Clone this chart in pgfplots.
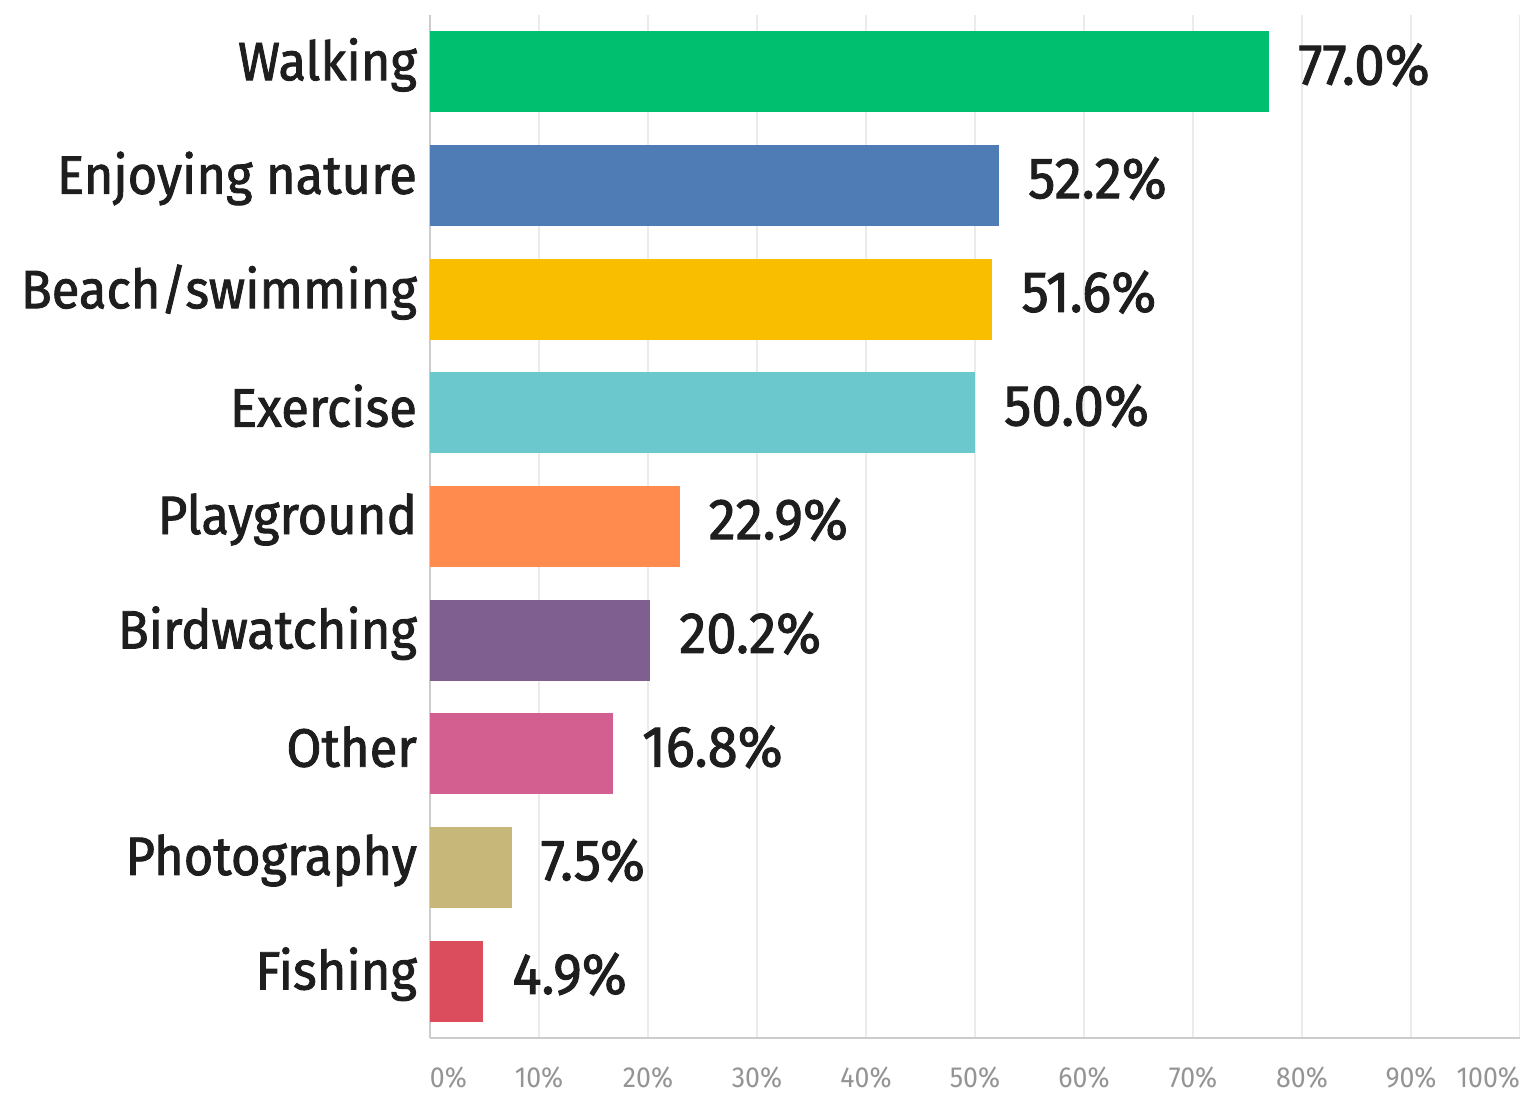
\documentclass[border=0pt]{standalone}
\usepackage{pgfplots}
\pgfplotsset{compat=1.18}
\usepackage{fontspec}
\setmainfont{Fira Sans}[FakeStretch=0.92]
\newfontfamily\labfont{Fira Sans}[FakeStretch=0.94, FakeBold=1.6]
\definecolor{cWalk}{HTML}{00BF6F}
\definecolor{cNature}{HTML}{507CB6}
\definecolor{cBeach}{HTML}{F9BE00}
\definecolor{cExer}{HTML}{6BC8CD}
\definecolor{cPlay}{HTML}{FF8B4F}
\definecolor{cBird}{HTML}{7F5F90}
\definecolor{cOther}{HTML}{D25F90}
\definecolor{cPhoto}{HTML}{C7B879}
\definecolor{cFish}{HTML}{DB4D5C}
\definecolor{txt}{HTML}{1E1E1E}
\begin{document}
\begin{tikzpicture}
\path[use as bounding box] (-215pt,-27.5pt) rectangle (545pt,519pt);
\begin{axis}[
  at={(0pt,0pt)}, anchor=south west,
  scale only axis, width=545pt, height=511.5pt,
  xmin=0, xmax=100, ymin=-0.5, ymax=8.5,
  xbar, bar width=40.5pt,
  axis x line*=bottom, axis y line*=left,
  x axis line style={-}, y axis line style={-},
  axis line style={draw=black!20, line width=1.2pt},
  xtick={0,10,...,100},
  xticklabels={\makebox[0pt][l]{0\%},10\%,20\%,30\%,40\%,50\%,60\%,70\%,80\%,90\%,\makebox[0pt][r]{100\%}},
  xmajorgrids, grid style={draw=black!8, line width=1pt},
  major tick length=0pt,
  ytick={0,...,8},
  yticklabels={Fishing,Photography,Other,Birdwatching,Playground,Exercise,Beach/swimming,Enjoying nature,Walking},
  yticklabel style={font=\labfont\fontsize{27}{30}\selectfont, text=txt, xshift=-3pt, yshift=3.5pt},
  xticklabel style={font=\fontsize{14.5}{16}\selectfont, text=black!42, yshift=-11pt},
  /pgf/number format/assume math mode=true,
  nodes near coords={\pgfmathprintnumber[fixed,fixed zerofill,precision=1]{\pgfplotspointmeta}\%},
  every node near coord/.append style={font=\labfont\fontsize{29}{32}\selectfont, text=txt, anchor=west, xshift=11pt, yshift=3.5pt},
]
\addplot[fill=cWalk, draw=none, bar shift=0pt] coordinates {(77.0,8)};
\addplot[fill=cNature, draw=none, bar shift=0pt] coordinates {(52.2,7)};
\addplot[fill=cBeach, draw=none, bar shift=0pt] coordinates {(51.6,6)};
\addplot[fill=cExer, draw=none, bar shift=0pt] coordinates {(50.0,5)};
\addplot[fill=cPlay, draw=none, bar shift=0pt] coordinates {(22.9,4)};
\addplot[fill=cBird, draw=none, bar shift=0pt] coordinates {(20.2,3)};
\addplot[fill=cOther, draw=none, bar shift=0pt] coordinates {(16.8,2)};
\addplot[fill=cPhoto, draw=none, bar shift=0pt] coordinates {(7.5,1)};
\addplot[fill=cFish, draw=none, bar shift=0pt] coordinates {(4.9,0)};
\end{axis}
\end{tikzpicture}
\end{document}
